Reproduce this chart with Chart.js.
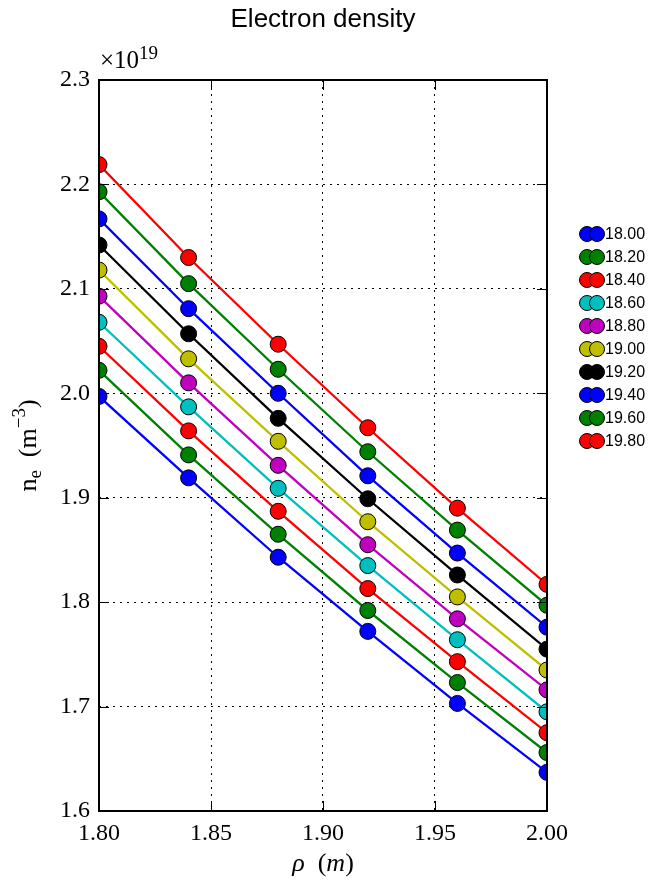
<!DOCTYPE html>
<html>
<head>
<meta charset="utf-8">
<script src="https://cdn.jsdelivr.net/npm/chart.js@4.4.1/dist/chart.umd.min.js"></script>
<style>
    body { margin: 0; background: #fff; }
    canvas { display: block; }
</style>
</head>
<body>
<canvas id="chart" width="660" height="886"></canvas>
<script>
const rho = [1.80, 1.84, 1.88, 1.92, 1.96, 2.00];

const seriesLabels = ["18.00", "18.20", "18.40", "18.60", "18.80", "19.00", "19.20", "19.40", "19.60", "19.80"];
const seriesColors = ["#0000ff", "#008000", "#ff0000", "#00bfbf", "#bf00bf", "#bfbf00", "#000000", "#0000ff", "#008000", "#ff0000"];

// electron density in units of 1e19 m^-3
const ne1800 = [1.997, 1.919, 1.843, 1.772, 1.703, 1.637];
const ne1820 = [2.022, 1.941, 1.865, 1.792, 1.723, 1.656];
const ne1840 = [2.045, 1.964, 1.887, 1.813, 1.743, 1.675];
const ne1860 = [2.068, 1.987, 1.909, 1.835, 1.764, 1.695];
const ne1880 = [2.093, 2.010, 1.931, 1.855, 1.784, 1.716];
const ne1900 = [2.118, 2.033, 1.954, 1.877, 1.805, 1.735];
const ne1920 = [2.142, 2.057, 1.976, 1.899, 1.826, 1.755];
const ne1940 = [2.167, 2.081, 2.000, 1.921, 1.847, 1.776];
const ne1960 = [2.193, 2.105, 2.023, 1.944, 1.869, 1.797];
const ne1980 = [2.219, 2.130, 2.047, 1.967, 1.890, 1.817];

const seriesValues = [ne1800, ne1820, ne1840, ne1860, ne1880, ne1900, ne1920, ne1940, ne1960, ne1980];

const xTicks = [1.80, 1.85, 1.90, 1.95, 2.00];
const yTicks = [1.6, 1.7, 1.8, 1.9, 2.0, 2.1, 2.2, 2.3];

const serif = "'Liberation Serif', 'DejaVu Serif', serif";
const sans = "'Liberation Sans', Arial, sans-serif";

function drawPieces(ctx, pieces, x, y) {
    // pieces: [text, font, dy]
    let total = 0;
    for (const p of pieces) {
        ctx.font = p[1];
        total += ctx.measureText(p[0]).width;
    }
    let cx = x - total / 2;
    ctx.textAlign = "left";
    ctx.textBaseline = "alphabetic";
    for (const p of pieces) {
        ctx.font = p[1];
        ctx.fillText(p[0], cx, y + p[2]);
        cx += ctx.measureText(p[0]).width;
    }
}

const decorPlugin = {
    id: "decor",
    afterDraw: (chart) => {
        const ctx = chart.ctx;
        const area = chart.chartArea;
        const xs = chart.scales.x;
        const ys = chart.scales.y;
        ctx.save();
        ctx.fillStyle = "#000";
        ctx.strokeStyle = "#000";

        // inward tick marks on all four sides
        ctx.lineWidth = 1;
        ctx.beginPath();
        for (const t of xTicks) {
            const px = Math.round(xs.getPixelForValue(t)) + 0.5;
            ctx.moveTo(px, area.bottom);
            ctx.lineTo(px, area.bottom - 10);
            ctx.moveTo(px, area.top);
            ctx.lineTo(px, area.top + 10);
        }
        for (const t of yTicks) {
            const py = Math.round(ys.getPixelForValue(t)) + 0.5;
            ctx.moveTo(area.left, py);
            ctx.lineTo(area.left + 10, py);
            ctx.moveTo(area.right, py);
            ctx.lineTo(area.right - 10, py);
        }
        ctx.stroke();

        // frame
        ctx.lineWidth = 2;
        ctx.strokeRect(area.left, area.top, area.right - area.left, area.bottom - area.top);

        // title
        ctx.font = "26px " + sans;
        ctx.textAlign = "center";
        ctx.textBaseline = "alphabetic";
        ctx.fillText("Electron density", (area.left + area.right) / 2, 27);

        // offset label
        ctx.textAlign = "left";
        ctx.font = "25px " + serif;
        ctx.fillText("\u00d710", area.left + 1, 68);
        const w = ctx.measureText("\u00d710").width;
        ctx.font = "19px " + serif;
        ctx.fillText("19", area.left + 1 + w, 59);

        // x axis label
        drawPieces(ctx, [
            ["\u03c1", "italic 26px " + serif, 0],
            ["  (", "26px " + serif, 0],
            ["m", "italic 26px " + serif, 0],
            [")", "26px " + serif, 0]
        ], (area.left + area.right) / 2, 871);

        // y axis label
        ctx.save();
        ctx.translate(36, (area.top + area.bottom) / 2);
        ctx.rotate(-Math.PI / 2);
        drawPieces(ctx, [
            ["n", "26px " + serif, 0],
            ["e", "19px " + serif, 5],
            ["  (m", "26px " + serif, 0],
            ["\u22123", "19px " + serif, -11],
            [")", "26px " + serif, 0]
        ], 0, 0);
        ctx.restore();

        // legend
        const lx = 587;
        const ly = 234;
        const step = 23;
        chart.data.datasets.forEach((ds, i) => {
            const cy = ly + i * step;
            for (const dx of [0, 10]) {
                ctx.beginPath();
                ctx.arc(lx + dx, cy, 7.5, 0, Math.PI * 2);
                ctx.fillStyle = ds.pointBackgroundColor;
                ctx.fill();
                ctx.lineWidth = 1;
                ctx.strokeStyle = "#000";
                ctx.stroke();
            }
            ctx.fillStyle = "#000";
            ctx.font = "16px " + sans;
            ctx.textAlign = "left";
            ctx.textBaseline = "middle";
            ctx.fillText(ds.label, 605, cy + 1);
        });
        ctx.restore();
    }
};

const datasets = seriesValues.map((vals, i) => ({
    label: seriesLabels[i],
    data: vals.map((v, j) => ({x: rho[j], y: v})),
    borderColor: seriesColors[i],
    borderWidth: 2.3,
    pointBackgroundColor: seriesColors[i],
    pointBorderColor: "#000",
    pointBorderWidth: 1,
    pointRadius: 8,
    pointHoverRadius: 8,
    clip: 0,
    order: -i
}));

new Chart(document.getElementById("chart"), {
    type: "line",
    data: {datasets: datasets},
    plugins: [decorPlugin],
    options: {
        responsive: false,
        animation: false,
        layout: {padding: {top: 80, right: 113, left: 0, bottom: 0}},
        plugins: {
            legend: {display: false},
            title: {display: false},
            tooltip: {enabled: false}
        },
        scales: {
            x: {
                type: "linear",
                min: 1.8,
                max: 2.0,
                afterBuildTicks: (scale) => { scale.ticks = xTicks.map(v => ({value: v})); },
                afterFit: (scale) => { scale.height = 75; },
                grid: {color: "#000", lineWidth: 1, drawTicks: false},
                border: {display: false, dash: [2, 5]},
                ticks: {
                    color: "#000",
                    padding: 8,
                    maxRotation: 0,
                    font: {family: serif, size: 24},
                    callback: (v) => Number(v).toFixed(2)
                }
            },
            y: {
                min: 1.6,
                max: 2.3,
                afterBuildTicks: (scale) => { scale.ticks = yTicks.map(v => ({value: v})); },
                afterFit: (scale) => { scale.width = 99; },
                grid: {color: "#000", lineWidth: 1, drawTicks: false},
                border: {display: false, dash: [2, 5]},
                ticks: {
                    color: "#000",
                    padding: 9,
                    font: {family: serif, size: 24},
                    callback: (v) => Number(v).toFixed(1)
                }
            }
        }
    }
});
</script>
</body>
</html>
